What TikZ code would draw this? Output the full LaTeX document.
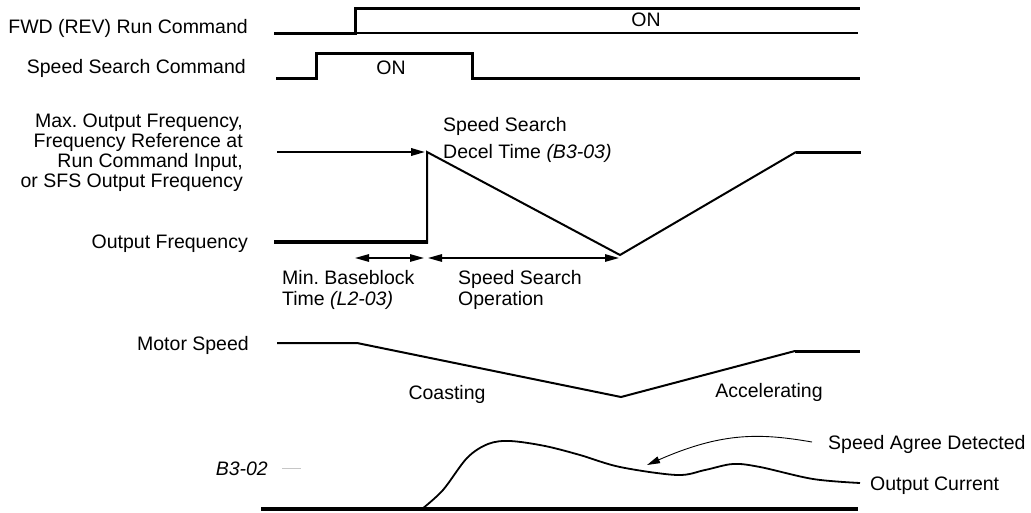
\documentclass[tikz,border=0pt]{standalone}
\usepackage{fontspec}
\setmainfont{Liberation Sans}
\usetikzlibrary{arrows.meta}
\frenchspacing
\begin{document}
\begin{tikzpicture}[x=1pt,y=-1pt,
  lbl/.style={inner sep=0pt, font=\fontsize{19.5}{20}\selectfont},
  heavy/.style={line width=3pt},
  med/.style={line width=2pt},
  thinl/.style={line width=1.2pt},
  tip/.style={-{Triangle[length=14pt,width=7.5pt]}},
  dimarrow/.style={line width=1.4pt, {Triangle[length=14pt,width=7.5pt]}-{Triangle[length=14pt,width=7.5pt]}},
  line join=miter]
\useasboundingbox (0,0) rectangle (1031,512);

% ---- left labels ----
\node[lbl, anchor=base east] (lfwd) at (248,33) {FWD (REV) Run Command};
\node[lbl, anchor=base east] (lss) at (246,73) {Speed Search Command};
\node[lbl, anchor=base east, align=right] (lmax) at (243,187)
  {Max. Output Frequency,\\Frequency Reference at\\Run Command Input,\\or SFS Output Frequency};
\node[lbl, anchor=base east] (lof) at (248,248) {Output Frequency};
\node[lbl, anchor=base east] (lms) at (249,350) {Motor Speed};
\node[lbl, anchor=base east] (lb32) at (268,475) {\itshape B3-02};

% ---- FWD run command ----
\draw[heavy] (274,33) -- (355,33) -- (355,8) -- (860,8);
\draw[thinl] (355,33) -- (858,33);
\node[lbl, anchor=base] (on1) at (646,26) {ON};

% ---- Speed search command ----
\draw[heavy] (276,78) -- (316,78) -- (316,53) -- (472,53) -- (472,78) -- (860,78);
\node[lbl, anchor=base] (on2) at (391,74) {ON};

% ---- Output frequency ----
\coordinate (ofstart) at (277,152);
\coordinate (ofjump) at (427,152);
\coordinate (ofmin) at (620,255);
\coordinate (ofend) at (796,152);
\draw[line width=3.3pt] (274,242) -- (428,242);
\draw[med] (427,243.6) -- (ofjump) -- (ofmin) -- (ofend);
\draw[heavy] (ofend) -- (861,152);
\draw[med, tip] (ofstart) -- (425,152);

\node[inner sep=0pt, anchor=base west, align=left, font=\fontsize{19.5}{27}\selectfont] (ssdt) at (443,158)
  {Speed Search\\Decel Time \textit{(B3-03)}};

% ---- time spans ----
\coordinate (bbL) at (355,258);
\coordinate (bbR) at (424,258);
\coordinate (soL) at (428,258);
\coordinate (soR) at (619,258);
\draw[dimarrow] (bbL) -- (bbR);
\draw[dimarrow] (soL) -- (soR);
\node[inner sep=0pt, anchor=base west, align=left, font=\fontsize{19.5}{21}\selectfont] (mbb) at (282,305)
  {Min. Baseblock\\Time \textit{(L2-03)}};
\node[inner sep=0pt, anchor=base west, align=left, font=\fontsize{19.5}{21}\selectfont] (sso) at (458,305)
  {Speed Search\\Operation};

% ---- Motor speed ----
\draw[med] (277,343) -- (357,343) -- (621,397) -- (795,351);
\draw[heavy] (795,351) -- (860,351);
\node[lbl, anchor=base] (coast) at (447,399) {Coasting};
\node[lbl, anchor=base] (accel) at (769,397) {Accelerating};

% ---- Output current ----
\draw[gray!45, line width=0.8pt] (282,468) -- (301,468);
\draw[line width=4pt] (261,509) -- (858,509);
\draw[line width=1.8pt] plot[smooth, tension=0.55] coordinates
  {(422,509) (443,490) (467,458) (488,444) (510,441) (545,446) (580,455)
   (620,467) (677,475) (705,470) (733,464) (760,467) (813,479) (860,483)};
\node[lbl, anchor=base west] (sad) at (828,449) {Speed Agree Detected};
\node[lbl, anchor=base west] (oc) at (870,490) {Output Current};
\coordinate (sadfrom) at (812,442);
\coordinate (sadto) at (647,465);
\draw[line width=0.9pt, -{Triangle[length=13pt,width=7pt]}] (sadfrom) .. controls (760,433) and (722,432) .. (sadto);
\end{tikzpicture}
\end{document}
